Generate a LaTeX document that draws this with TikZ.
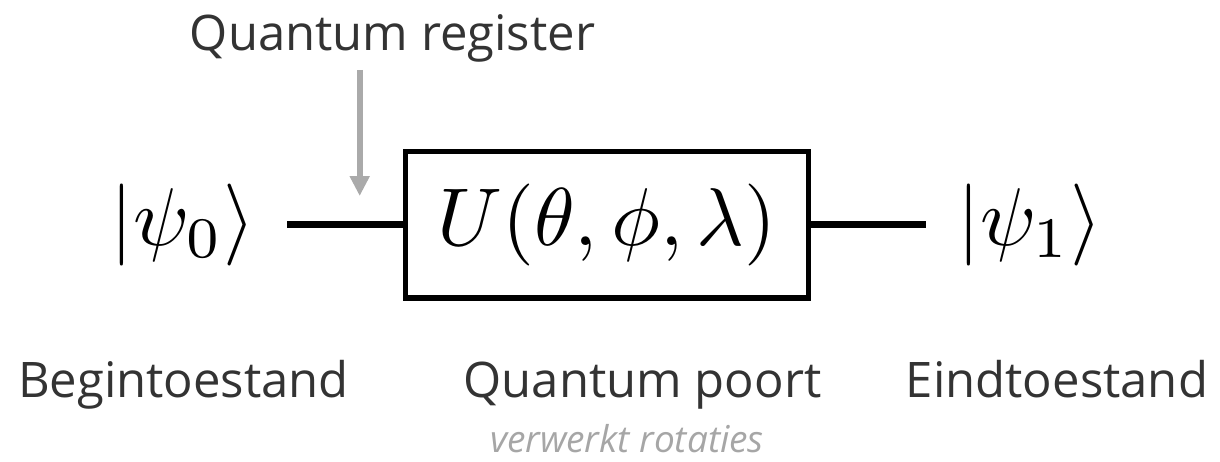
\documentclass[tikz,border=0pt]{standalone}
\usepackage{amsmath,amssymb}
\usepackage{graphicx}
\usepackage[no-math]{fontspec}
\setmainfont{Open Sans}
\usepackage{tikz}
\usetikzlibrary{positioning, arrows.meta}
\usepackage{xcolor}
\definecolor{inkgray}{HTML}{333333}
\definecolor{pointergray}{HTML}{AAAAAA}
\definecolor{notegray}{HTML}{A6A6A6}
\newcommand{\bigmath}[1]{\scalebox{8.2}{$#1$}}

\begin{document}
\begin{tikzpicture}[
    x=1pt, y=1pt,
    >=Stealth,
    every node/.style={inner sep=0pt, outer sep=0pt},
    caption/.style={font=\fontsize{49}{58}\selectfont, text=inkgray, anchor=base},
    note/.style={font=\fontsize{37}{44}\selectfont\itshape, text=notegray, anchor=base},
    ket/.style={},
    gatebox/.style={draw, line width=5.5pt, minimum width=403pt, minimum height=146.5pt},
    wire/.style={line width=6.5pt},
    pointer/.style={-{Triangle[width=19pt, length=20pt]}, line width=6pt, pointergray},
]
\useasboundingbox (0,0) rectangle (1220,-461);

% ── Gate ──
\node[gatebox] (gate) at (607,-224.5) {\bigmath{U(\theta,\phi,\lambda)}};

% ── States ──
\node[ket] (psi0) at (183,-224.5) {\bigmath{|\psi_0\rangle}};
\node[ket] (psi1) at (1030,-224.5) {\bigmath{|\psi_1\rangle}};

% ── Labels ──
\node[caption] (register) at (392.5,-50) {Quantum register};
\node[caption] (begin) at (183.5,-397) {Begintoestand};
\node[caption] (poort) at (642.5,-397) {Quantum poort};
\node[caption] (eind) at (1057,-397) {Eindtoestand};
\node[note, below=27pt of poort.base, xshift=-15.5pt] (rotaties) {verwerkt rotaties};

% ── Wires ──
\draw[wire, shorten <=32pt] (psi0.east) -- (gate.west);
\draw[wire, shorten >=32pt] (gate.east) -- (psi1.west);

% ── Register pointer ──
\coordinate (regtip) at (359.7,-196);
\draw[pointer, shorten <=8pt] (register.south -| regtip) -- (regtip);

\end{tikzpicture}
\end{document}
